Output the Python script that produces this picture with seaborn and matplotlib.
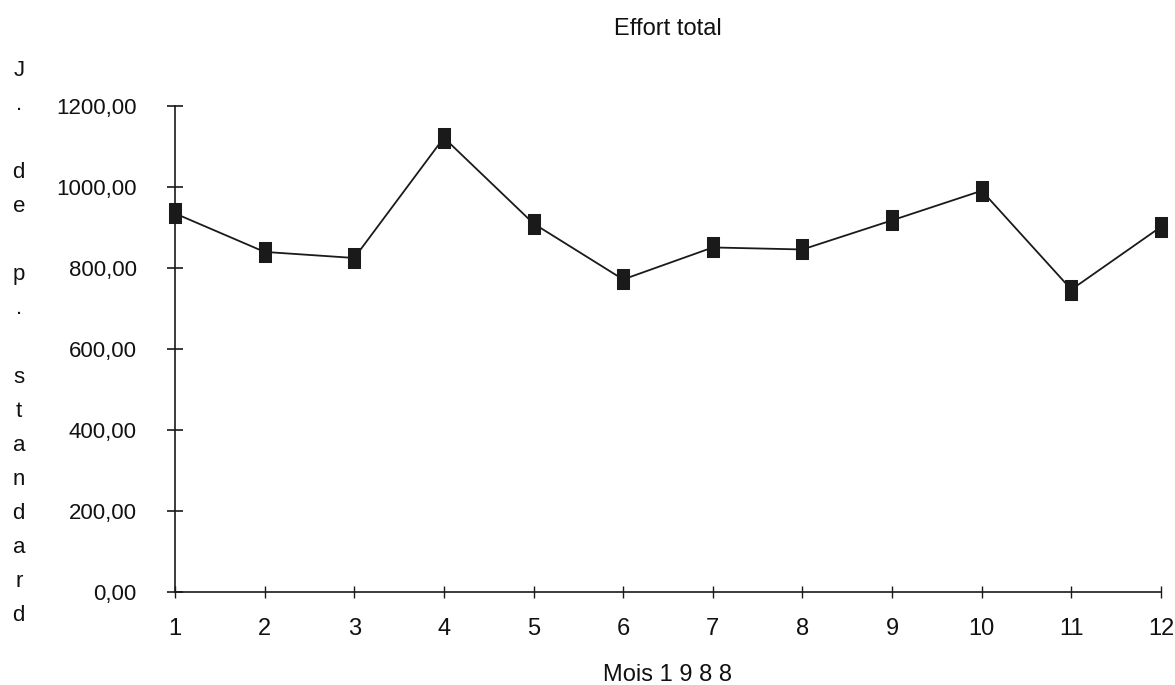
import matplotlib
matplotlib.use('Agg')
import matplotlib.pyplot as plt
import seaborn as sns
import pandas as pd

# data
mois = [1, 2, 3, 4, 5, 6, 7, 8, 9, 10, 11, 12]
effort = [934, 839, 824, 1121, 909, 771, 850, 845, 917, 990, 746, 901]
yticks = [0, 200, 400, 600, 800, 1000, 1200]
ytick_labels = ['0,00', '200,00', '400,00', '600,00', '800,00', '1000,00', '1200,00']
ylabel_letters = ['J', '.', '', 'd', 'e', '', 'p', '.', '', 's', 't', 'a', 'n', 'd', 'a', 'r', 'd']

df = pd.DataFrame({'mois': mois, 'effort': effort})

sns.set_style('white')
plt.rcParams['font.family'] = ['Liberation Sans Narrow', 'Liberation Sans', 'DejaVu Sans']

fig = plt.figure(figsize=(11.75, 6.85), dpi=100)
ax = fig.add_axes([0.1489, 0.1362, 0.8392, 0.7095])

# tall rectangle marker like the original
rect = [(-0.6, -1), (0.6, -1), (0.6, 1), (-0.6, 1), (-0.6, -1)]
sns.lineplot(data=df, x='mois', y='effort', ax=ax, color='#1a1a1a', linewidth=1.3,
             marker=rect, markersize=15, markerfacecolor='#1a1a1a',
             markeredgecolor='#1a1a1a', clip_on=False)

ax.set_xlim(1, 12)
ax.set_ylim(0, 1200)
ax.set_xticks(mois)
ax.set_xticklabels([str(m) for m in mois])
ax.set_yticks(yticks)
ax.set_yticklabels(ytick_labels)

for side in ['top', 'right']:
    ax.spines[side].set_visible(False)
for side in ['left', 'bottom']:
    ax.spines[side].set_color('#1a1a1a')
    ax.spines[side].set_linewidth(1.2)

ax.tick_params(axis='y', left=True, direction='inout', length=11, width=1.2,
               color='#1a1a1a', labelsize=16, pad=22, labelcolor='#111111')
ax.tick_params(axis='x', bottom=True, direction='inout', length=8, width=1.0,
               color='#1a1a1a', labelsize=17, pad=15, labelcolor='#111111')

ax.set_xlabel('')
ax.set_ylabel('')
fig.text(0.5685, 1 - 29 / 685, 'Effort total', ha='center', va='center',
         fontsize=17, color='#111111')
fig.text(0.5685, 1 - 675 / 685, 'Mois 1 9 8 8', ha='center', va='center',
         fontsize=17, color='#111111')
fig.text(0.016, 1 - 343 / 685, '\n'.join(ylabel_letters), ha='center', va='center',
         fontsize=16, color='#111111', linespacing=1.82)

fig.savefig('out.png', dpi=100, facecolor='white')
